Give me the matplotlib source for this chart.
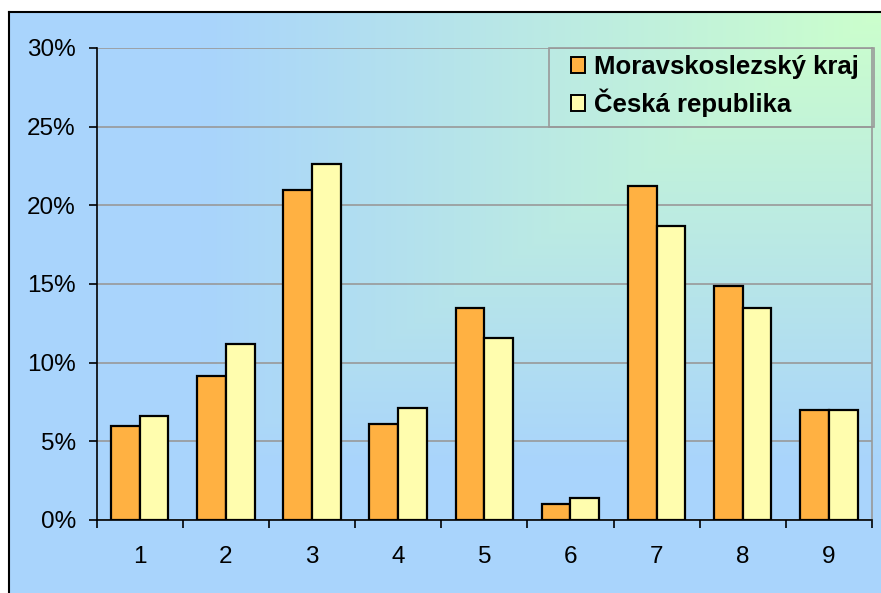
import numpy as np
import matplotlib
matplotlib.use("Agg")
import matplotlib.pyplot as plt
from matplotlib.patches import Rectangle
from matplotlib.ticker import FixedLocator, FuncFormatter

categories = ["1", "2", "3", "4", "5", "6", "7", "8", "9"]
msk = [6.0, 9.15, 21.0, 6.1, 13.5, 1.0, 21.2, 14.9, 7.0]
cr = [6.6, 11.2, 22.6, 7.1, 11.55, 1.4, 18.7, 13.5, 7.0]
series_names = ["Moravskoslezský kraj", "Česká republika"]
yticks = [0, 5, 10, 15, 20, 25, 30]

plt.rcParams['font.family'] = ['Liberation Sans', 'DejaVu Sans']

W, H = 881, 593
fig = plt.figure(figsize=(W / 100, H / 100), dpi=100)
fig.patch.set_facecolor('white')

# background gradient (chart area)
bg_left, bg_top = 9, 12
bg = fig.add_axes([bg_left / W, 0, 1 - bg_left / W, 1 - bg_top / H])
bg.set_axis_off()
gw, gh = W - bg_left, H - bg_top
xx, yy = np.meshgrid(np.arange(gw), np.arange(gh))
dx = (gw - xx) / gw
dy = yy / gh
t = np.maximum(dx, dy)
t = np.clip(t / 0.78, 0, 1)
green = np.array([204, 255, 204]) / 255
blue = np.array([169, 212, 252]) / 255
img = green[None, None, :] * (1 - t[..., None]) + blue[None, None, :] * t[..., None]
bg.imshow(img, aspect='auto', extent=[0, 1, 0, 1], origin='upper', interpolation='bilinear')
bg.set_xlim(0, 1)
bg.set_ylim(0, 1)
bg.plot([0, 0], [0, 1], color='black', lw=1.5, transform=bg.transAxes, clip_on=False)
bg.plot([0, 1], [1, 1], color='black', lw=1.5, transform=bg.transAxes, clip_on=False)

# main axes
ax_l, ax_r, ax_t, ax_b = 96.7, 872, 48, 520
ax = fig.add_axes([ax_l / W, 1 - ax_b / H, (ax_r - ax_l) / W, (ax_b - ax_t) / H])
ax.patch.set_alpha(0)

x = np.arange(len(categories))
w = 1 / 3
ax.bar(x - w / 2, msk, width=w, color='#FFB142', edgecolor='black', linewidth=1.6,
       label=series_names[0], zorder=3)
ax.bar(x + w / 2, cr, width=w, color='#FFFDAE', edgecolor='black', linewidth=1.6,
       label=series_names[1], zorder=3)

ax.set_xlim(-0.5, len(categories) - 0.5)
ax.set_ylim(0, 30)
ax.yaxis.set_major_locator(FixedLocator(yticks))
ax.yaxis.set_major_formatter(FuncFormatter(lambda v, p: f"{int(v)}%"))
ax.grid(axis='y', color='#999999', linewidth=1.2, zorder=0)

ax.xaxis.set_major_locator(FixedLocator(np.arange(len(categories) + 1) - 0.5))
ax.xaxis.set_major_formatter(FuncFormatter(lambda v, p: ""))
ax.xaxis.set_minor_locator(FixedLocator(x))
ax.xaxis.set_minor_formatter(FuncFormatter(lambda v, p: categories[int(round(v))]))
ax.tick_params(axis='x', which='major', length=6, width=1.2, direction='out', color='black')
ax.tick_params(axis='x', which='minor', length=0, pad=19, labelsize=17.5)
ax.tick_params(axis='y', which='major', length=6, width=1.2, direction='out', pad=9,
               labelsize=17.5, color='black')

for s in ['left', 'bottom']:
    ax.spines[s].set_color('black')
    ax.spines[s].set_linewidth(1.2)
ax.spines['top'].set_visible(False)
ax.spines['right'].set_color('#999999')
ax.spines['right'].set_linewidth(1.2)

# legend frame (drawn separately to match padding)
fr_l, fr_r, fr_t, fr_b = 549, 874, 48, 127
fig.patches.append(Rectangle((fr_l / W, 1 - fr_b / H), (fr_r - fr_l) / W, (fr_b - fr_t) / H,
                             transform=fig.transFigure, facecolor='none',
                             edgecolor='#999999', linewidth=1.2, zorder=5))

leg = ax.legend(loc='upper left', bbox_to_anchor=(571 / W, 1 - 55 / H),
                bbox_transform=fig.transFigure,
                borderaxespad=0, frameon=False,
                prop={'weight': 'bold', 'size': 18.5}, handlelength=0.55, handleheight=0.55,
                handletextpad=0.35, labelspacing=0.37, borderpad=0)
for p in leg.get_patches():
    p.set_linewidth(1.4)

fig.savefig('out.png', dpi=100)
